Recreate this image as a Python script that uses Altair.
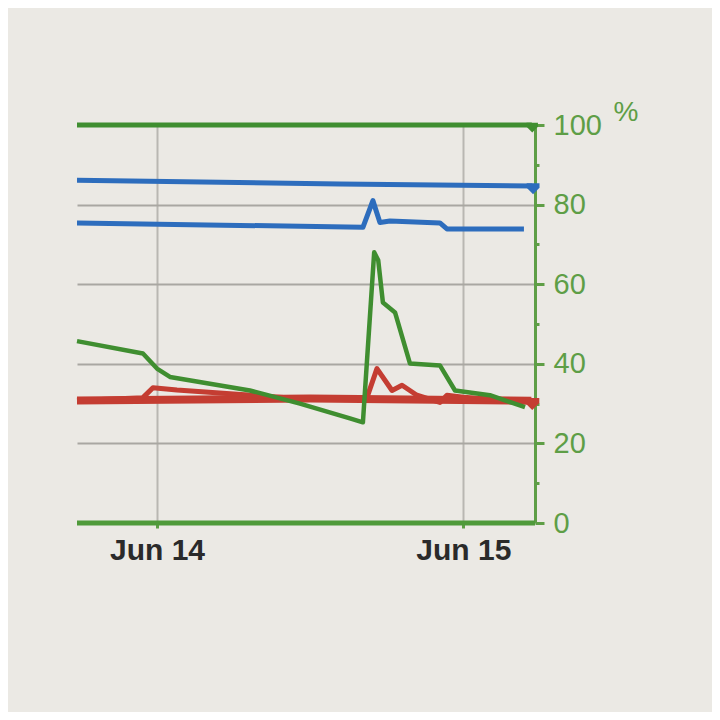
import altair as alt
import pandas as pd

# ---- data (times in UTC, values in %) ----
green_top_t = ["2024-06-13T17:44", "2024-06-15T05:22"]
green_top_v = [100, 100]

green_bottom_t = ["2024-06-13T17:44", "2024-06-15T05:37"]
green_bottom_v = [0, 0]

blue_top_t = ["2024-06-13T17:44", "2024-06-14T14:20", "2024-06-15T05:24"]
blue_top_v = [86.1, 85.2, 84.7]

blue_low_t = ["2024-06-13T17:44", "2024-06-14T16:08", "2024-06-14T16:55",
              "2024-06-14T17:28", "2024-06-14T18:15", "2024-06-14T22:10",
              "2024-06-14T22:43", "2024-06-15T04:45"]
blue_low_v = [75.4, 74.3, 81.0, 75.5, 75.9, 75.4, 73.9, 73.9]

green_var_t = ["2024-06-13T17:44", "2024-06-13T22:54", "2024-06-14T00:00",
               "2024-06-14T01:01", "2024-06-14T07:17", "2024-06-14T11:12",
               "2024-06-14T15:07", "2024-06-14T16:08", "2024-06-14T17:01",
               "2024-06-14T17:20", "2024-06-14T17:42", "2024-06-14T18:39",
               "2024-06-14T19:49", "2024-06-14T22:10", "2024-06-14T23:21",
               "2024-06-15T02:05", "2024-06-15T04:50"]
green_var_v = [45.7, 42.6, 38.8, 36.7, 33.3, 30.0, 26.3, 25.3, 68.0, 66.0,
               55.4, 52.9, 40.1, 39.6, 33.3, 32.1, 29.1]

red_thick_t = ["2024-06-13T17:44", "2024-06-14T12:00", "2024-06-15T05:20"]
red_thick_v = [30.8, 31.3, 30.7]

red_thin_t = ["2024-06-13T17:44", "2024-06-13T22:54", "2024-06-13T23:41",
              "2024-06-14T01:34", "2024-06-14T06:00", "2024-06-14T10:30",
              "2024-06-14T16:27", "2024-06-14T17:14", "2024-06-14T18:25",
              "2024-06-14T19:12", "2024-06-14T20:22", "2024-06-14T22:10",
              "2024-06-14T22:43", "2024-06-15T00:00", "2024-06-15T04:50"]
red_thin_v = [30.8, 31.5, 34.0, 33.4, 32.4, 31.4, 31.5, 38.8, 33.3, 34.6,
              32.1, 30.3, 32.1, 31.6, 30.5]

marker_s = ["green_top", "blue_top", "red_thick"]
marker_t = ["2024-06-15T05:24", "2024-06-15T05:28", "2024-06-15T05:24"]
marker_v = [100, 84.7, 30.7]

x_domain = ["2024-06-13T17:44", "2024-06-15T05:37"]
x_ticks = ["2024-06-14T00:00", "2024-06-15T00:00"]
y_ticks = [0, 10, 20, 30, 40, 50, 60, 70, 80, 90, 100]

# ---- styling ----
GREEN = "#3f8e30"
GREEN_AX = "#5e9e46"
BLUE = "#2d6dbd"
RED = "#c43d32"
BG = "#ebe9e4"

def ms(s):
    return int(pd.Timestamp(s + ":00Z").value // 10**6)

def frame(ts, vs):
    return pd.DataFrame({"t": [s + ":00Z" for s in ts], "v": vs})

x_enc = alt.X(
    "t:T",
    scale=alt.Scale(type="utc", domain=[ms(d) for d in x_domain], nice=False),
    axis=alt.Axis(
        values=[ms(d) for d in x_ticks],
        labelExpr="utcFormat(datum.value, '%b %d')",
        title=None,
        domain=False,
        grid=True,
        gridColor="#b9b7b2",
        gridWidth=2,
        ticks=True,
        tickColor=GREEN_AX,
        tickWidth=3,
        tickSize=5,
        labelFont="Liberation Sans",
        labelFontSize=30,
        labelFontWeight="bold",
        labelColor="#2a2a2a",
        labelPadding=7,
    ),
)

y_enc = alt.Y(
    "v:Q",
    scale=alt.Scale(domain=[0, 100], nice=False),
    axis=alt.Axis(
        orient="right",
        values=y_ticks,
        labelExpr="datum.value % 20 === 0 ? datum.label : ''",
        title="%",
        titleAngle=0,
        titleX=78,
        titleY=-27,
        titleAlign="left",
        titleBaseline="top",
        titleFont="Liberation Sans",
        titleFontSize=28,
        titleFontWeight="normal",
        titleColor=GREEN_AX,
        domain=True,
        domainColor=GREEN_AX,
        domainWidth=3,
        grid=True,
        gridColor={"condition": {"test": "datum.value % 20 === 0 && datum.value > 0 && datum.value < 100",
                                 "value": "#a9a7a2"},
                   "value": "rgba(0,0,0,0)"},
        gridWidth=2,
        ticks=True,
        tickColor=GREEN_AX,
        tickWidth=3,
        tickSize={"condition": {"test": "datum.value % 20 === 0", "value": 9},
                  "value": 4},
        labelFont="Liberation Sans",
        labelFontSize=29,
        labelColor=GREEN_AX,
        labelPadding=9,
    ),
)

def line(ts, vs, color, width):
    return alt.Chart(frame(ts, vs)).mark_line(
        color=color, strokeWidth=width, strokeJoin="round", strokeCap="butt"
    ).encode(x=x_enc, y=y_enc)

layers = [
    line(red_thick_t, red_thick_v, RED, 8),
    line(red_thin_t, red_thin_v, RED, 5),
    line(blue_top_t, blue_top_v, BLUE, 5),
    line(blue_low_t, blue_low_v, BLUE, 5),
    line(green_var_t, green_var_v, GREEN, 4.5),
    line(green_top_t, green_top_v, GREEN, 5),
    line(green_bottom_t, green_bottom_v, "#4f9a3a", 5),
]

mk = pd.DataFrame({"s": marker_s, "t": [s + ":00Z" for s in marker_t], "v": marker_v})
markers = alt.Chart(mk).mark_point(
    shape="M-1,-0.4L1,-0.4L1,0.3L0,1.3L-1,0.3Z", filled=True, opacity=1, strokeWidth=0
).encode(
    x=x_enc,
    y=y_enc,
    color=alt.Color("s:N", scale=alt.Scale(domain=marker_s, range=[GREEN, BLUE, RED]), legend=None),
    size=alt.Size("s:N", scale=alt.Scale(domain=marker_s, range=[130, 200, 170]), legend=None),
)
layers.append(markers)

chart = alt.layer(*layers).properties(
    width=458,
    height=398,
    background=BG,
    padding={"left": 69, "top": 117, "right": 177, "bottom": 189},
    autosize=alt.AutoSizeParams(type="none"),
).configure_view(stroke=None)

chart.save("out.html", embed_options={"renderer": "svg", "actions": False})
